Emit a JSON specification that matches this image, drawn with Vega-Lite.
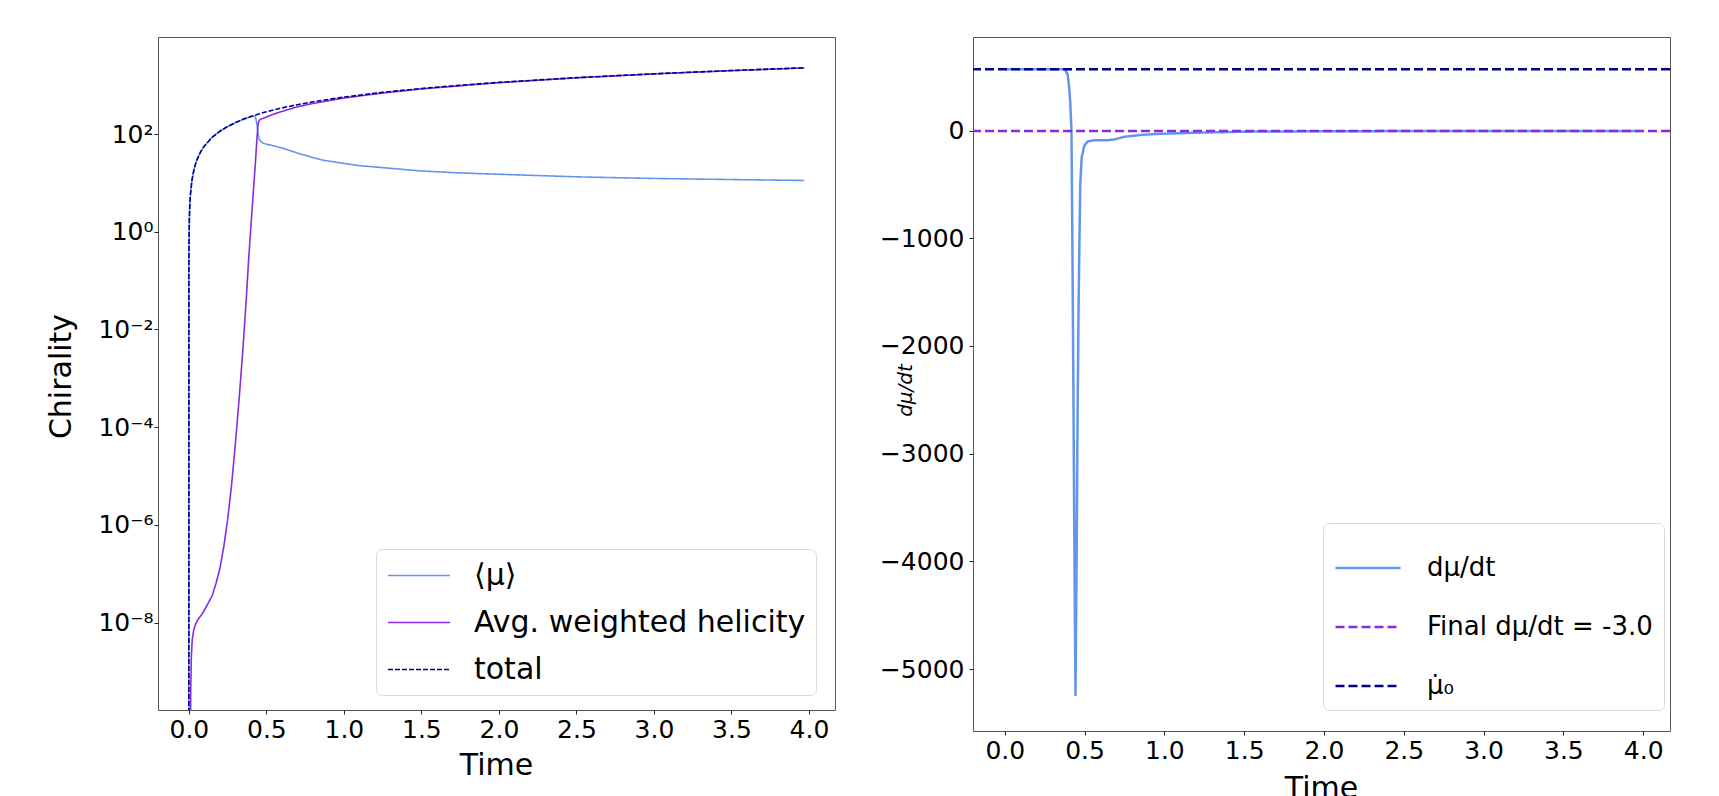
{
  "$schema": "https://vega.github.io/schema/vega-lite/v6.json",
  "padding": {"left": 45, "top": 36, "right": 0, "bottom": 0},
  "bounds": "flush",
  "spacing": 138,
  "background": "white",
  "resolve": {
    "scale": {"color": "independent", "strokeDash": "independent"},
    "legend": {"color": "independent", "strokeDash": "independent"}
  },
  "config": {
    "font": "DejaVu Sans",
    "view": {"stroke": "#555", "strokeWidth": 1},
    "axis": {
      "grid": false, "domain": false, "tickColor": "#222", "tickSize": 4, "tickWidth": 1,
      "labelFont": "DejaVu Sans", "labelFontSize": 25, "labelColor": "#000", "labelPadding": 3,
      "titleFont": "DejaVu Sans", "titleFontSize": 30, "titleFontWeight": "normal", "titleColor": "#000"
    },
    "legend": {
      "labelFont": "DejaVu Sans", "labelColor": "#000", "strokeColor": "#d9d9d9", "fillColor": "white",
      "cornerRadius": 6, "symbolType": "stroke", "labelLimit": 0
    }
  },
  "datasets": {
    "left": [
      {"t": 0, "v": 1e-12, "s": "⟨μ⟩"}, {"t": 0.0002, "v": 0.114, "s": "⟨μ⟩"}, {"t": 0.001, "v": 0.57, "s": "⟨μ⟩"},
      {"t": 0.003, "v": 1.71, "s": "⟨μ⟩"}, {"t": 0.006, "v": 3.42, "s": "⟨μ⟩"}, {"t": 0.01, "v": 5.7, "s": "⟨μ⟩"},
      {"t": 0.02, "v": 11.4, "s": "⟨μ⟩"}, {"t": 0.035, "v": 19.9, "s": "⟨μ⟩"}, {"t": 0.05, "v": 28.5, "s": "⟨μ⟩"},
      {"t": 0.075, "v": 42.7, "s": "⟨μ⟩"}, {"t": 0.1, "v": 57, "s": "⟨μ⟩"}, {"t": 0.15, "v": 85.5, "s": "⟨μ⟩"},
      {"t": 0.2, "v": 114, "s": "⟨μ⟩"}, {"t": 0.25, "v": 142, "s": "⟨μ⟩"}, {"t": 0.3, "v": 171, "s": "⟨μ⟩"},
      {"t": 0.35, "v": 199, "s": "⟨μ⟩"}, {"t": 0.4, "v": 227, "s": "⟨μ⟩"}, {"t": 0.415, "v": 233, "s": "⟨μ⟩"},
      {"t": 0.425, "v": 230, "s": "⟨μ⟩"}, {"t": 0.43, "v": 218, "s": "⟨μ⟩"}, {"t": 0.435, "v": 190, "s": "⟨μ⟩"},
      {"t": 0.44, "v": 152, "s": "⟨μ⟩"}, {"t": 0.445, "v": 113, "s": "⟨μ⟩"}, {"t": 0.45, "v": 88, "s": "⟨μ⟩"},
      {"t": 0.455, "v": 77, "s": "⟨μ⟩"}, {"t": 0.465, "v": 70, "s": "⟨μ⟩"}, {"t": 0.48, "v": 65, "s": "⟨μ⟩"},
      {"t": 0.5, "v": 62, "s": "⟨μ⟩"}, {"t": 0.55, "v": 57, "s": "⟨μ⟩"}, {"t": 0.6, "v": 52, "s": "⟨μ⟩"},
      {"t": 0.65, "v": 46, "s": "⟨μ⟩"}, {"t": 0.72, "v": 39, "s": "⟨μ⟩"}, {"t": 0.8, "v": 33, "s": "⟨μ⟩"},
      {"t": 0.87, "v": 29, "s": "⟨μ⟩"}, {"t": 1.0, "v": 25, "s": "⟨μ⟩"}, {"t": 1.1, "v": 22.5, "s": "⟨μ⟩"},
      {"t": 1.25, "v": 20.5, "s": "⟨μ⟩"}, {"t": 1.5, "v": 17.5, "s": "⟨μ⟩"}, {"t": 1.75, "v": 16, "s": "⟨μ⟩"},
      {"t": 2.0, "v": 15, "s": "⟨μ⟩"}, {"t": 2.5, "v": 13.3, "s": "⟨μ⟩"}, {"t": 3.0, "v": 12.3, "s": "⟨μ⟩"},
      {"t": 3.5, "v": 11.7, "s": "⟨μ⟩"}, {"t": 3.97, "v": 11.2, "s": "⟨μ⟩"},

      {"t": 0.0095, "v": 1e-11, "s": "Avg. weighted helicity"}, {"t": 0.012, "v": 4.0e-10, "s": "Avg. weighted helicity"},
      {"t": 0.016, "v": 2.0e-9, "s": "Avg. weighted helicity"}, {"t": 0.022, "v": 4.5e-9, "s": "Avg. weighted helicity"},
      {"t": 0.032, "v": 7.1e-9, "s": "Avg. weighted helicity"}, {"t": 0.045, "v": 9.5e-9, "s": "Avg. weighted helicity"},
      {"t": 0.06, "v": 1.17e-8, "s": "Avg. weighted helicity"}, {"t": 0.08, "v": 1.41e-8, "s": "Avg. weighted helicity"},
      {"t": 0.1, "v": 1.78e-8, "s": "Avg. weighted helicity"}, {"t": 0.125, "v": 2.5e-8, "s": "Avg. weighted helicity"},
      {"t": 0.15, "v": 3.5e-8, "s": "Avg. weighted helicity"}, {"t": 0.175, "v": 6.3e-8, "s": "Avg. weighted helicity"},
      {"t": 0.2, "v": 1.26e-7, "s": "Avg. weighted helicity"}, {"t": 0.225, "v": 3.5e-7, "s": "Avg. weighted helicity"},
      {"t": 0.25, "v": 1.26e-6, "s": "Avg. weighted helicity"}, {"t": 0.275, "v": 6.3e-6, "s": "Avg. weighted helicity"},
      {"t": 0.3, "v": 4.5e-5, "s": "Avg. weighted helicity"}, {"t": 0.325, "v": 4.0e-4, "s": "Avg. weighted helicity"},
      {"t": 0.35, "v": 4.5e-3, "s": "Avg. weighted helicity"}, {"t": 0.37, "v": 0.04, "s": "Avg. weighted helicity"},
      {"t": 0.385, "v": 0.25, "s": "Avg. weighted helicity"}, {"t": 0.4, "v": 1.26, "s": "Avg. weighted helicity"},
      {"t": 0.41, "v": 3.5, "s": "Avg. weighted helicity"}, {"t": 0.42, "v": 10, "s": "Avg. weighted helicity"},
      {"t": 0.43, "v": 28, "s": "Avg. weighted helicity"}, {"t": 0.435, "v": 50, "s": "Avg. weighted helicity"},
      {"t": 0.44, "v": 89, "s": "Avg. weighted helicity"}, {"t": 0.445, "v": 141, "s": "Avg. weighted helicity"},
      {"t": 0.45, "v": 178, "s": "Avg. weighted helicity"}, {"t": 0.46, "v": 200, "s": "Avg. weighted helicity"},
      {"t": 0.48, "v": 210, "s": "Avg. weighted helicity"}, {"t": 0.5, "v": 223, "s": "Avg. weighted helicity"},
      {"t": 0.55, "v": 256, "s": "Avg. weighted helicity"}, {"t": 0.6, "v": 290, "s": "Avg. weighted helicity"},
      {"t": 0.7, "v": 360, "s": "Avg. weighted helicity"}, {"t": 0.8, "v": 423, "s": "Avg. weighted helicity"},
      {"t": 1.0, "v": 545, "s": "Avg. weighted helicity"}, {"t": 1.25, "v": 692, "s": "Avg. weighted helicity"},
      {"t": 1.5, "v": 837, "s": "Avg. weighted helicity"}, {"t": 2.0, "v": 1125, "s": "Avg. weighted helicity"},
      {"t": 2.5, "v": 1412, "s": "Avg. weighted helicity"}, {"t": 3.0, "v": 1698, "s": "Avg. weighted helicity"},
      {"t": 3.5, "v": 1983, "s": "Avg. weighted helicity"}, {"t": 3.97, "v": 2252, "s": "Avg. weighted helicity"},

      {"t": 0, "v": 1e-12, "s": "total"}, {"t": 0.0002, "v": 0.114, "s": "total"}, {"t": 0.001, "v": 0.57, "s": "total"},
      {"t": 0.003, "v": 1.71, "s": "total"}, {"t": 0.006, "v": 3.42, "s": "total"}, {"t": 0.01, "v": 5.7, "s": "total"},
      {"t": 0.02, "v": 11.4, "s": "total"}, {"t": 0.035, "v": 20, "s": "total"}, {"t": 0.05, "v": 28.5, "s": "total"},
      {"t": 0.075, "v": 42.7, "s": "total"}, {"t": 0.1, "v": 57, "s": "total"}, {"t": 0.15, "v": 85.5, "s": "total"},
      {"t": 0.2, "v": 114, "s": "total"}, {"t": 0.25, "v": 142.5, "s": "total"}, {"t": 0.3, "v": 171, "s": "total"},
      {"t": 0.35, "v": 199.5, "s": "total"}, {"t": 0.4, "v": 228, "s": "total"}, {"t": 0.45, "v": 256.5, "s": "total"},
      {"t": 0.5, "v": 285, "s": "total"}, {"t": 0.6, "v": 342, "s": "total"}, {"t": 0.7, "v": 399, "s": "total"},
      {"t": 0.8, "v": 456, "s": "total"}, {"t": 1.0, "v": 570, "s": "total"}, {"t": 1.25, "v": 712, "s": "total"},
      {"t": 1.5, "v": 855, "s": "total"}, {"t": 1.75, "v": 997, "s": "total"}, {"t": 2.0, "v": 1140, "s": "total"},
      {"t": 2.5, "v": 1425, "s": "total"}, {"t": 3.0, "v": 1710, "s": "total"}, {"t": 3.5, "v": 1995, "s": "total"},
      {"t": 3.97, "v": 2263, "s": "total"}
    ],
    "right": [
      {"t": 0, "v": 570, "s": "dμ/dt"}, {"t": 0.2, "v": 570, "s": "dμ/dt"}, {"t": 0.377, "v": 569, "s": "dμ/dt"},
      {"t": 0.394, "v": 523, "s": "dμ/dt"}, {"t": 0.402, "v": 420, "s": "dμ/dt"}, {"t": 0.41, "v": 276, "s": "dμ/dt"},
      {"t": 0.418, "v": -3, "s": "dμ/dt"}, {"t": 0.424, "v": -1117, "s": "dμ/dt"}, {"t": 0.43, "v": -2400, "s": "dμ/dt"},
      {"t": 0.436, "v": -3800, "s": "dμ/dt"}, {"t": 0.443, "v": -5250, "s": "dμ/dt"}, {"t": 0.45, "v": -4000, "s": "dμ/dt"},
      {"t": 0.456, "v": -2700, "s": "dμ/dt"}, {"t": 0.462, "v": -1700, "s": "dμ/dt"}, {"t": 0.467, "v": -1117, "s": "dμ/dt"},
      {"t": 0.473, "v": -498, "s": "dμ/dt"}, {"t": 0.482, "v": -250, "s": "dμ/dt"}, {"t": 0.498, "v": -142, "s": "dμ/dt"},
      {"t": 0.519, "v": -102, "s": "dμ/dt"}, {"t": 0.561, "v": -89, "s": "dμ/dt"}, {"t": 0.645, "v": -89, "s": "dμ/dt"},
      {"t": 0.686, "v": -83, "s": "dμ/dt"}, {"t": 0.749, "v": -58, "s": "dμ/dt"}, {"t": 0.853, "v": -40, "s": "dμ/dt"},
      {"t": 0.958, "v": -31, "s": "dμ/dt"}, {"t": 1.167, "v": -21, "s": "dμ/dt"}, {"t": 1.5, "v": -10, "s": "dμ/dt"},
      {"t": 2.0, "v": -6, "s": "dμ/dt"}, {"t": 2.5, "v": -4.5, "s": "dμ/dt"}, {"t": 3.0, "v": -3.5, "s": "dμ/dt"},
      {"t": 3.5, "v": -3.2, "s": "dμ/dt"}, {"t": 3.97, "v": -3.0, "s": "dμ/dt"}
    ],
    "rules": [
      {"v": -3.0, "s": "Final dμ/dt = -3.0"},
      {"v": 570, "s": "μ̇₀"}
    ]
  },
  "hconcat": [
    {
      "width": 677,
      "height": 673,
      "data": {"name": "left"},
      "mark": {"type": "line", "clip": true, "strokeWidth": 1.6},
      "encoding": {
        "x": {
          "field": "t", "type": "quantitative",
          "scale": {"domain": [-0.199, 4.168], "nice": false, "zero": false},
          "axis": {"values": [0, 0.5, 1, 1.5, 2, 2.5, 3, 3.5, 4], "format": ".1f", "title": "Time",
                   "titleX": 338, "titleY": 55, "titleBaseline": "middle", "titleAlign": "center"}
        },
        "y": {
          "field": "v", "type": "quantitative",
          "scale": {"type": "log", "domain": [1.62e-10, 9683], "nice": false},
          "axis": {
            "values": [1e-8, 1e-6, 1e-4, 0.01, 1, 100],
            "labelExpr": "datum.value >= 50 ? '10²' : datum.value >= 0.5 ? '10⁰' : datum.value >= 0.005 ? '10⁻²' : datum.value >= 0.00005 ? '10⁻⁴' : datum.value >= 0.0000005 ? '10⁻⁶' : '10⁻⁸'",
            "labelPadding": 1,
            "title": "Chirality", "titleX": -97, "titleY": 339, "titleBaseline": "middle", "titleAlign": "center", "titleAngle": -90
          }
        },
        "color": {
          "field": "s", "type": "nominal",
          "scale": {"domain": ["⟨μ⟩", "Avg. weighted helicity", "total"], "range": ["#6495ED", "#8A2BE2", "#00008B"]},
          "legend": {"orient": "none", "legendX": 218, "legendY": 512, "title": null, "symbolType": "M-0.935,0H3.065", "symbolSize": 961,
                     "symbolStrokeWidth": 1.6, "labelFontSize": 30, "labelOffset": 55, "padding": 10, "rowPadding": 15}
        },
        "strokeDash": {
          "field": "s", "type": "nominal",
          "scale": {"domain": ["⟨μ⟩", "Avg. weighted helicity", "total"], "range": [[1, 0], [1, 0], [5, 2]]},
          "legend": {"orient": "none", "legendX": 218, "legendY": 512, "title": null, "symbolType": "M-0.935,0H3.065", "symbolSize": 961,
                     "symbolStrokeWidth": 1.6, "labelFontSize": 30, "labelOffset": 55, "padding": 10, "rowPadding": 15}
        }
      }
    },
    {
      "width": 697,
      "height": 694,
      "encoding": {
        "y": {
          "field": "v", "type": "quantitative",
          "scale": {"domain": [-5575, 869], "nice": false, "zero": false},
          "axis": {
            "values": [-5000, -4000, -3000, -2000, -1000, 0], "format": "d", "labelPadding": 5,
            "title": "dμ/dt", "titleFontSize": 20, "titleFontStyle": "italic",
            "titleX": -68, "titleY": 353, "titleBaseline": "middle", "titleAlign": "center", "titleAngle": -90
          }
        },
        "color": {
          "field": "s", "type": "nominal",
          "scale": {"domain": ["dμ/dt", "Final dμ/dt = -3.0", "μ̇₀"], "range": ["#6495ED", "#8A2BE2", "#00008B"]},
          "legend": {"orient": "none", "legendX": 350, "legendY": 486, "title": null, "symbolSize": 4225,
                     "symbolStrokeWidth": 2.5, "labelFontSize": 26, "labelOffset": 25, "padding": 11, "rowPadding": 12}
        },
        "strokeDash": {
          "field": "s", "type": "nominal",
          "scale": {"domain": ["dμ/dt", "Final dμ/dt = -3.0", "μ̇₀"], "range": [[1, 0], [9, 4], [9, 4]]},
          "legend": {"orient": "none", "legendX": 350, "legendY": 486, "title": null, "symbolSize": 4225,
                     "symbolStrokeWidth": 2.5, "labelFontSize": 26, "labelOffset": 25, "padding": 11, "rowPadding": 12}
        }
      },
      "layer": [
        {
          "data": {"name": "right"},
          "mark": {"type": "line", "clip": true, "strokeWidth": 2.5},
          "encoding": {
            "x": {
              "field": "t", "type": "quantitative",
              "scale": {"domain": [-0.199, 4.168], "nice": false, "zero": false},
              "axis": {"values": [0, 0.5, 1, 1.5, 2, 2.5, 3, 3.5, 4], "format": ".1f", "title": "Time",
                       "titleX": 348, "titleY": 57, "titleBaseline": "middle", "titleAlign": "center"}
            }
          }
        },
        {
          "data": {"name": "rules"},
          "mark": {"type": "rule", "strokeWidth": 2.5},
          "encoding": {}
        }
      ]
    }
  ]
}
